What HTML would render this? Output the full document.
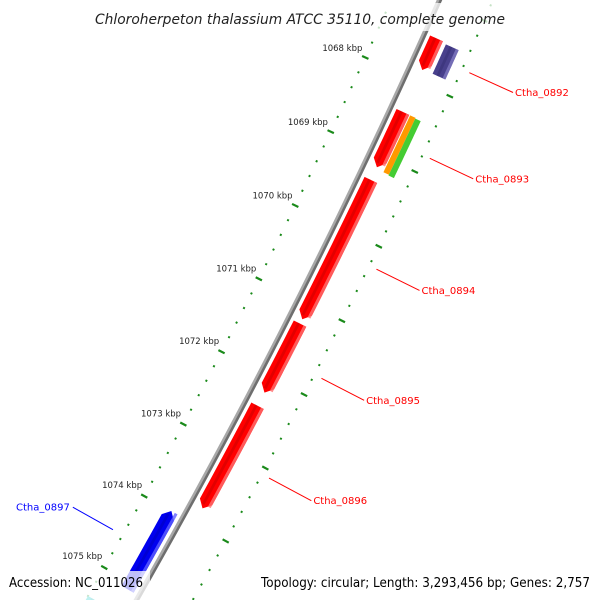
<!DOCTYPE html>
<html><head><meta charset="utf-8"><style>
html,body{margin:0;padding:0;background:#fff;width:600px;height:600px;overflow:hidden}
svg{display:block}
text{font-family:"DejaVu Sans","Liberation Sans",sans-serif}
</style></head><body>
<svg id="map" width="600" height="600" viewBox="0 0 600 600" xmlns="http://www.w3.org/2000/svg">
<g id="rings"></g>
<g id="backbone"></g>
<g id="genes"></g>
<g id="labels"></g>
<rect x="88" y="3" width="424" height="28" fill="#fff" opacity="0.75"/>
<text x="300" y="24" text-anchor="middle" font-size="14" font-style="italic" fill="#222" textLength="410" lengthAdjust="spacingAndGlyphs">Chloroherpeton thalassium ATCC 35110, complete genome</text>
<rect x="2" y="571" width="148" height="29" fill="#fff" opacity="0.75"/>
<rect x="255" y="571" width="345" height="29" fill="#fff" opacity="0.75"/>
<text x="9" y="587" font-size="13" fill="#000" textLength="134" lengthAdjust="spacingAndGlyphs">Accession: NC_011026</text>
<text x="590" y="587" text-anchor="end" font-size="13" fill="#000" textLength="329" lengthAdjust="spacingAndGlyphs">Topology: circular; Length: 3,293,456 bp; Genes: 2,757</text>
</svg>
<script>
const majorTicks = [1066,1067,1068,1069,1070,1071,1072,1073,1074,1075,1076];
const geneNames = ["Ctha_0891","Ctha_0892","Ctha_0893","Ctha_0893b","Ctha_0893c","Ctha_0894","Ctha_0895","Ctha_0896","Ctha_0897","Ctha_0898"];
const geneStart = [1067.43,1067.45,1068.41,1068.41,1068.42,1069.32,1071.26,1072.38,1074.00,1075.40];
const geneEnd   = [1067.85,1067.84,1069.15,1069.17,1069.18,1071.20,1072.20,1073.79,1075.09,1076.20];
const geneStrand= [1,1,1,1,1,1,1,1,-1,-1];
const geneType  = ["red","purple","red","orange","green","red","red","red","blue","cyan"];
const geneLabeled=[false,true,true,false,false,true,true,true,true,false];
const labelText = ["","Ctha_0892","Ctha_0893","","","Ctha_0894","Ctha_0895","Ctha_0896","Ctha_0897",""];

const NS="http://www.w3.org/2000/svg";
const cx=-5652, cy=-2700, R=6663, th0=0.4297, dth=0.01237;
function ang(k){return th0+(k-1068)*dth;}
function pt(k,r){const t=ang(k);return [cx+r*Math.cos(t), cy+r*Math.sin(t)];}
function mk(tag,attrs,parent){const e=document.createElementNS(NS,tag);for(const a in attrs)e.setAttribute(a,attrs[a]);parent.appendChild(e);return e;}

const rings=document.getElementById('rings');
const ringR=[R-44, R+49];
ringR.forEach(function(rr,ri){
  for(let i=0;i<majorTicks.length-1;i++){
    for(let j=0;j<5;j++){
      const k=majorTicks[i]+j*0.2;
      if(j===0){
        const a=pt(k,rr-3.5), b=pt(k,rr+3.5);
        const el=mk('line',{x1:a[0],y1:a[1],x2:b[0],y2:b[1],stroke:'#1a8a1a','stroke-width':2.2},rings);
        
        
        if(ri===0){
          const p=pt(k,rr-23);
          const t=mk('text',{x:p[0]-2,y:p[1]+3,'text-anchor':'middle','font-size':'8.5',fill:'#222'},rings);
          t.textContent=majorTicks[i]+' kbp';
          
          
        }
      } else {
        const a=pt(k,rr-1), b=pt(k,rr+1);
        const el=mk('line',{x1:a[0],y1:a[1],x2:b[0],y2:b[1],stroke:'#1a8a1a','stroke-width':2},rings);
        
        
      }
    }
  }
});

function arcPath(k1,k2,r){let d='';const n=40;for(let i=0;i<=n;i++){const p=pt(k1+(k2-k1)*i/n,r);d+=(i?'L':'M')+p[0].toFixed(2)+','+p[1].toFixed(2);}return d;}
const bb=document.getElementById('backbone');
let e=mk('path',{d:arcPath(1066,1077,R-1.2),fill:'none',stroke:'#a8a8a8','stroke-width':2.6},bb);


e=mk('path',{d:arcPath(1066,1077,R+1.3),fill:'none',stroke:'#6e6e6e','stroke-width':2.6},bb);



const colors={red:['#ff0000','#b00000','#ff7070'],purple:['#48408c','#2e2866','#8078c0'],orange:['#ff9900','#c06a00','#ffc060'],green:['#44cc33','#2a9020','#90ee80'],blue:['#0000ee','#0000a0','#6060ff'],cyan:['#00c8c8','#008888','#80f0f0']};
const bands={red:[6,20],purple:[24,38],orange:[21,27],green:[27,33],blue:[-20,-6],cyan:[-44,-30]};
const genes=document.getElementById('genes');
function bandPath(k1,k2,r1,r2,strand,arrow){
  const head=arrow?0.09:0;
  let pts=[];const n=16;
  if(strand>0){
    const ke=k2-head;
    for(let i=0;i<=n;i++)pts.push(pt(k1+(ke-k1)*i/n,r2));
    if(arrow)pts.push(pt(k2,(r1+r2)/2));
    for(let i=n;i>=0;i--)pts.push(pt(k1+(ke-k1)*i/n,r1));
  } else {
    const ks=k1+head;
    for(let i=0;i<=n;i++)pts.push(pt(ks+(k2-ks)*i/n,r2));
    for(let i=n;i>=0;i--)pts.push(pt(ks+(k2-ks)*i/n,r1));
    if(arrow)pts.push(pt(k1,(r1+r2)/2));
  }
  return 'M'+pts.map(p=>p[0].toFixed(2)+','+p[1].toFixed(2)).join('L')+'Z';
}
for(let i=0;i<geneNames.length;i++){
  const ty=geneType[i], b=bands[ty], c=colors[ty];
  const arrow=(ty==='red'||ty==='blue');
  const g=mk('g',{},genes);
  
  
  const r1=R+b[0], r2=R+b[1], w=r2-r1;
  let p=mk('path',{d:bandPath(geneStart[i],geneEnd[i],r1,r2,geneStrand[i],arrow),fill:c[0]},g);
  
  
  if(w>8){
    p=mk('path',{d:bandPath(geneStart[i],geneEnd[i]-(arrow&&geneStrand[i]>0?0.05:0),r2-w*0.22,r2,1,false),fill:c[2],opacity:0.8},g);
    
    
    p=mk('path',{d:bandPath(geneStart[i]+(arrow&&geneStrand[i]<0?0.05:0),geneEnd[i]-(arrow&&geneStrand[i]>0?0.05:0),r1+w*0.3,r1+w*0.5,1,false),fill:c[1],opacity:0.35},g);
    
    
  }
}

const labels=document.getElementById('labels');
for(let i=0;i<geneNames.length;i++){
  if(!geneLabeled[i])continue;
  const mid=(geneStart[i]+geneEnd[i])/2;
  const s=geneStrand[i];
  const r0=s>0?R+57:R-55, r1=s>0?R+105:R-101;
  const a=pt(mid,r0), b=pt(mid,r1);
  const col=s>0?'#ff0000':'#0000ff';
  let l=mk('line',{x1:a[0],y1:a[1],x2:b[0],y2:b[1],stroke:col,'stroke-width':1},labels);
  
  
  const t=mk('text',{x:s>0?b[0]+2:b[0]-3,y:b[1]+3.5,'text-anchor':s>0?'start':'end','font-size':'10',fill:col},labels);
  t.textContent=labelText[i];
  
  
}
</script>
</body></html>
